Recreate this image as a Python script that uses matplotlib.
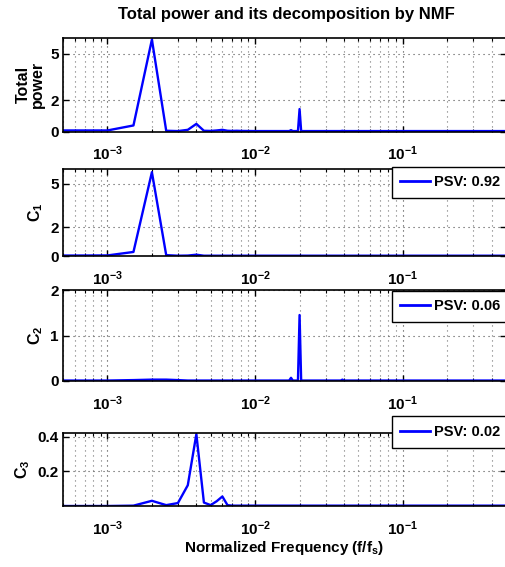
import matplotlib
matplotlib.use("Agg")
import matplotlib.pyplot as plt
from matplotlib.ticker import LogLocator, NullFormatter, FixedLocator, FuncFormatter

FONT = 'Liberation Sans'
plt.rcParams['font.family'] = FONT
plt.rcParams['font.weight'] = 'bold'
plt.rcParams['mathtext.fontset'] = 'custom'
plt.rcParams['mathtext.rm'] = FONT + ':bold'
plt.rcParams['mathtext.bf'] = FONT + ':bold'
plt.rcParams['mathtext.it'] = FONT + ':bold'
plt.rcParams['mathtext.default'] = 'bf'

# Normalized frequency bins (f/fs), bin width 1/2000
freq = [0.0005, 0.001, 0.0015, 0.002, 0.0025, 0.003, 0.0035, 0.004, 0.0045,
        0.005, 0.0055, 0.006, 0.0065, 0.007, 0.0075, 0.008, 0.01, 0.012,
        0.015, 0.017, 0.0175, 0.018, 0.0195, 0.02, 0.0205, 0.022, 0.03,
        0.038, 0.039, 0.04, 0.05, 0.08, 0.1, 0.2, 0.3, 0.5]

total_power = [0.08, 0.08, 0.40, 5.90, 0.06, 0.04, 0.12, 0.50, 0.06,
               0.05, 0.08, 0.12, 0.06, 0.05, 0.06, 0.05, 0.04, 0.04,
               0.04, 0.04, 0.10, 0.04, 0.04, 1.45, 0.04, 0.04, 0.04,
               0.04, 0.06, 0.04, 0.04, 0.04, 0.04, 0.04, 0.04, 0.04]

c1 = [0.03, 0.04, 0.28, 5.80, 0.06, 0.02, 0.03, 0.09, 0.02,
      0.02, 0.02, 0.02, 0.02, 0.02, 0.02, 0.02, 0.02, 0.02,
      0.02, 0.02, 0.02, 0.02, 0.02, 0.02, 0.02, 0.02, 0.02,
      0.02, 0.02, 0.02, 0.02, 0.02, 0.02, 0.02, 0.02, 0.02]

c2 = [0.01, 0.01, 0.02, 0.03, 0.03, 0.02, 0.01, 0.01, 0.01,
      0.01, 0.01, 0.01, 0.01, 0.01, 0.01, 0.01, 0.01, 0.01,
      0.01, 0.01, 0.07, 0.01, 0.01, 1.45, 0.01, 0.01, 0.01,
      0.01, 0.03, 0.01, 0.01, 0.01, 0.01, 0.01, 0.01, 0.01]

c3 = [0.0, 0.0, 0.002, 0.030, 0.005, 0.017, 0.120, 0.415, 0.020,
      0.005, 0.028, 0.055, 0.005, 0.002, 0.002, 0.002, 0.002, 0.002,
      0.002, 0.002, 0.002, 0.002, 0.002, 0.002, 0.002, 0.002, 0.002,
      0.002, 0.002, 0.002, 0.002, 0.002, 0.002, 0.002, 0.002, 0.002]

series = [total_power, c1, c2, c3]
ylabels = ['Total\npower', 'C$_1$', 'C$_2$', 'C$_3$']
ylims = [(0, 6), (0, 6), (0, 2), (0, 0.42)]
yticks = [[0, 2, 5], [0, 2, 5], [0, 1, 2], [0.2, 0.4]]
psv = [None, '0.92', '0.06', '0.02']

W, H = 505, 567
# axes boxes in pixels: top, bottom
boxes = [(38, 131.7), (169.3, 256), (290, 381), (433.3, 506)]
leg_top = [None, 166.7, 290.7, 416]
x0, x1 = 63, 506

fig = plt.figure(figsize=(W / 100, H / 100), dpi=100)

for i, (top, bot) in enumerate(boxes):
    ax = fig.add_axes([x0 / W, 1 - bot / H, (x1 - x0) / W, (bot - top) / H])
    ax.plot(freq, series[i], color=(0, 0, 1), lw=1.7, label='PSV: %s' % psv[i])
    ax.set_xscale('log')
    ax.set_xlim(0.0005, 0.5)
    ax.set_ylim(*ylims[i])
    ax.yaxis.set_major_locator(FixedLocator(yticks[i]))
    ax.yaxis.set_major_formatter(FuncFormatter(lambda v, p: '%g' % v))
    ax.xaxis.set_major_locator(LogLocator(base=10, numticks=10))
    ax.xaxis.set_minor_locator(LogLocator(base=10, subs=range(2, 10), numticks=10))
    ax.xaxis.set_minor_formatter(NullFormatter())
    ax.tick_params(which='both', direction='in', top=True, right=True, labelsize=11)
    ax.tick_params(which='major', length=4, width=1)
    ax.tick_params(which='minor', length=2.5, width=0.8)
    ax.tick_params(axis='x', pad=9.5)
    ax.tick_params(axis='y', pad=3)
    ax.grid(True, which='major', axis='x', linestyle=(0, (1, 3.5)), color='0.25', lw=0.8)
    ax.grid(True, which='minor', axis='x', linestyle=(0, (1, 3.5)), color='0.45', lw=0.8)
    ax.grid(True, which='major', axis='y', linestyle=(0, (1, 3.5)), color='0.3', lw=0.8)
    for s in ax.spines.values():
        s.set_linewidth(1.2)
    ax.set_ylabel(ylabels[i], fontsize=11.5, fontweight='bold', linespacing=0.95, labelpad=4)
    if psv[i] is not None:
        lx = (391.7 - x0) / (x1 - x0)
        ly = (bot - leg_top[i]) / (bot - top)
        leg = ax.legend(loc='upper left', bbox_to_anchor=(lx, ly), borderaxespad=0,
                        fontsize=10.5, handlelength=2.0, handletextpad=0.3,
                        borderpad=0.6, fancybox=False, framealpha=1)
        leg.get_frame().set_edgecolor('black')
        leg.get_frame().set_linewidth(1.0)
        leg.get_lines()[0].set_linewidth(2)
    if i == 3:
        ax.set_xlabel('Normalized Frequency (f/f$_s$)', fontsize=11, fontweight='bold', labelpad=1)

fig.text(286 / W, 1 - 15 / H, 'Total power and its decomposition by NMF',
         ha='center', va='center', fontsize=12, fontweight='bold')

fig.savefig('out.png', dpi=100)
